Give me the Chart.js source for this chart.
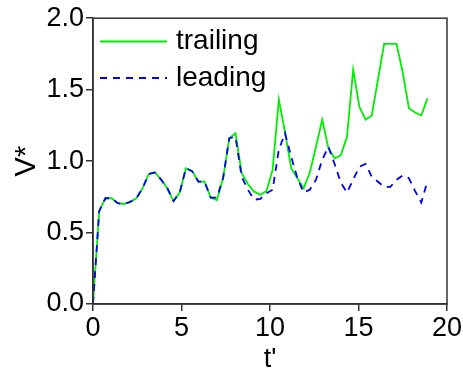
<!DOCTYPE html>
<html>
<head>
<meta charset="utf-8">
<script src="https://cdn.jsdelivr.net/npm/chart.js@4/dist/chart.umd.min.js"></script>
<style>
  html, body { margin: 0; padding: 0; background: #fff; overflow: hidden; }
</style>
</head>
<body>
<canvas id="grafica" width="463" height="378"></canvas>
<script>
// tiempo adimensional t' y velocidades V* de cada borde
const tiempos = [0, 0.35, 0.7, 1.05, 1.4, 1.75, 2.1, 2.45, 2.8, 3.15, 3.5, 3.85, 4.2, 4.55, 4.9,
    5.25, 5.6, 5.95, 6.3, 6.65, 7.0, 7.35, 7.7, 8.05, 8.4, 8.75, 9.1, 9.45, 9.8, 10.15,
    10.5, 10.85, 11.2, 11.55, 11.9, 12.25, 12.6, 12.95, 13.3, 13.65, 14.0, 14.35, 14.7,
    15.05, 15.4, 15.75, 16.1, 16.45, 16.8, 17.15, 17.5, 17.85, 18.2, 18.55, 18.9];

const trailing = [0, 0.65, 0.74, 0.74, 0.705, 0.70, 0.715, 0.74, 0.81, 0.91, 0.92, 0.87, 0.81, 0.72, 0.78,
    0.95, 0.93, 0.857, 0.857, 0.745, 0.728, 0.88, 1.16, 1.195, 0.915, 0.84, 0.786, 0.765, 0.79, 0.94,
    1.43, 1.20, 0.95, 0.88, 0.81, 0.92, 1.10, 1.29, 1.09, 1.02, 1.04, 1.17, 1.64,
    1.38, 1.29, 1.32, 1.57, 1.82, 1.82, 1.82, 1.62, 1.37, 1.34, 1.32, 1.44];

const leading = [0, 0.65, 0.74, 0.74, 0.705, 0.70, 0.715, 0.74, 0.81, 0.91, 0.92, 0.87, 0.81, 0.72, 0.78,
    0.95, 0.93, 0.857, 0.857, 0.745, 0.745, 0.88, 1.16, 1.17, 0.89, 0.80, 0.73, 0.735, 0.775, 0.80,
    1.08, 1.195, 1.03, 0.88, 0.78, 0.80, 0.87, 1.01, 1.10, 0.98, 0.85, 0.78, 0.87,
    0.96, 0.98, 0.89, 0.855, 0.82, 0.82, 0.87, 0.90, 0.88, 0.79, 0.71, 0.86];

const fuente = '"Liberation Sans", Arial, sans-serif';
const colorEje = '#333';

function puntos(valores) {
    return tiempos.map((t, i) => ({ x: t, y: valores[i] }));
}

// marco completo y leyenda dentro del area de la grafica
const marcoYLeyenda = {
    id: 'marcoYLeyenda',
    afterDraw(chart) {
        const { ctx, chartArea: a } = chart;
        ctx.save();
        ctx.strokeStyle = colorEje;
        ctx.lineWidth = 1.5;
        ctx.strokeRect(a.left, a.top, a.right - a.left, a.bottom - a.top);

        ctx.font = '28px ' + fuente;
        ctx.textBaseline = 'middle';
        ctx.fillStyle = '#000';
        const filas = [41.5, 78];
        chart.data.datasets.forEach((ds, i) => {
            const y = filas[i];
            ctx.beginPath();
            ctx.strokeStyle = ds.borderColor;
            ctx.lineWidth = ds.borderWidth;
            ctx.setLineDash(ds.borderDash || []);
            ctx.moveTo(a.left + 7, y);
            ctx.lineTo(a.left + 74, y);
            ctx.stroke();
            ctx.setLineDash([]);
            ctx.fillText(ds.label, a.left + 83, y);
        });
        ctx.restore();
    }
};

new Chart(document.getElementById('grafica'), {
    type: 'line',
    data: {
        datasets: [
            {
                label: 'trailing',
                data: puntos(trailing),
                borderColor: '#00ee00',
                borderWidth: 1.8,
                pointRadius: 0,
                tension: 0,
                order: 1
            },
            {
                label: 'leading',
                data: puntos(leading),
                borderColor: '#0000ee',
                borderWidth: 1.8,
                borderDash: [7, 6],
                pointRadius: 0,
                tension: 0,
                order: 0
            }
        ]
    },
    options: {
        responsive: false,
        animation: false,
        devicePixelRatio: 1,
        layout: { padding: { left: 0, top: 18, right: 15, bottom: 0 } },
        plugins: {
            legend: { display: false },
            tooltip: { enabled: false }
        },
        scales: {
            x: {
                type: 'linear',
                min: 0,
                max: 20,
                ticks: {
                    stepSize: 5,
                    color: '#000',
                    font: { family: fuente, size: 27 },
                    padding: 1,
                    maxRotation: 0
                },
                grid: { drawOnChartArea: false, drawTicks: true, tickLength: 7, color: colorEje, lineWidth: 1.5 },
                border: { display: true, color: colorEje, width: 1.5 },
                title: {
                    display: true,
                    text: "t'",
                    color: '#000',
                    font: { family: fuente, size: 27 },
                    padding: { top: 0, bottom: 2 }
                },
                afterFit(scale) { scale.height = 74; }
            },
            y: {
                min: 0,
                max: 2,
                ticks: {
                    stepSize: 0.5,
                    color: '#000',
                    font: { family: fuente, size: 27 },
                    padding: 2,
                    callback: v => v.toFixed(1)
                },
                grid: { drawOnChartArea: false, drawTicks: true, tickLength: 7, color: colorEje, lineWidth: 1.5 },
                border: { display: true, color: colorEje, width: 1.5 },
                title: {
                    display: true,
                    text: 'V*',
                    color: '#000',
                    font: { family: fuente, size: 29 },
                    padding: { top: 10, bottom: 0 }
                },
                afterFit(scale) { scale.width = 93; }
            }
        }
    },
    plugins: [marcoYLeyenda]
});
</script>
</body>
</html>
